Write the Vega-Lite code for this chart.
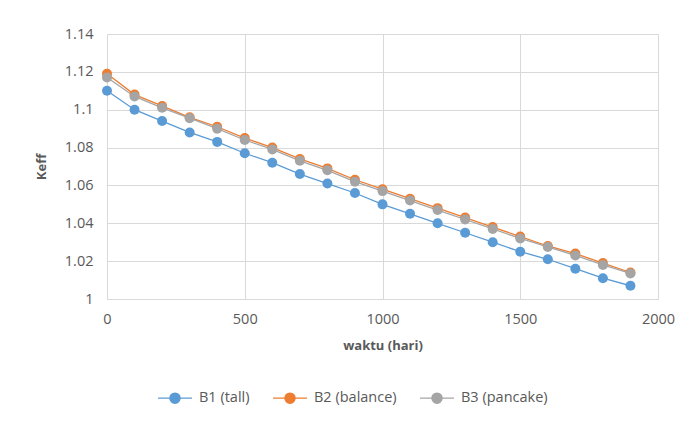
{
  "$schema": "https://vega.github.io/schema/vega-lite/v6.json",
  "width": 551,
  "height": 265,
  "autosize": {"type": "none"},
  "padding": {"left": 107, "top": 34, "right": 27, "bottom": 125},
  "background": "white",
  "config": {
    "font": "Open Sans",
    "view": {"stroke": null},
    "axis": {"labelColor": "#595959", "labelFontSize": 14.5, "titleColor": "#595959", "titleFontSize": 13, "titleFontWeight": "bold", "gridColor": "#d9d9d9", "gridWidth": 1, "ticks": false, "domain": false, "labelFont": "Open Sans", "labelFlush": false}
  },
  "data": {"values": [
    {"t":0,"k":1.110,"s":"B1 (tall)"},{"t":100,"k":1.100,"s":"B1 (tall)"},{"t":200,"k":1.094,"s":"B1 (tall)"},{"t":300,"k":1.088,"s":"B1 (tall)"},{"t":400,"k":1.083,"s":"B1 (tall)"},{"t":500,"k":1.077,"s":"B1 (tall)"},{"t":600,"k":1.072,"s":"B1 (tall)"},{"t":700,"k":1.066,"s":"B1 (tall)"},{"t":800,"k":1.061,"s":"B1 (tall)"},{"t":900,"k":1.056,"s":"B1 (tall)"},{"t":1000,"k":1.050,"s":"B1 (tall)"},{"t":1100,"k":1.045,"s":"B1 (tall)"},{"t":1200,"k":1.040,"s":"B1 (tall)"},{"t":1300,"k":1.035,"s":"B1 (tall)"},{"t":1400,"k":1.030,"s":"B1 (tall)"},{"t":1500,"k":1.025,"s":"B1 (tall)"},{"t":1600,"k":1.021,"s":"B1 (tall)"},{"t":1700,"k":1.016,"s":"B1 (tall)"},{"t":1800,"k":1.011,"s":"B1 (tall)"},{"t":1900,"k":1.007,"s":"B1 (tall)"},
    {"t":0,"k":1.119,"s":"B2 (balance)"},{"t":100,"k":1.108,"s":"B2 (balance)"},{"t":200,"k":1.102,"s":"B2 (balance)"},{"t":300,"k":1.096,"s":"B2 (balance)"},{"t":400,"k":1.091,"s":"B2 (balance)"},{"t":500,"k":1.085,"s":"B2 (balance)"},{"t":600,"k":1.080,"s":"B2 (balance)"},{"t":700,"k":1.074,"s":"B2 (balance)"},{"t":800,"k":1.069,"s":"B2 (balance)"},{"t":900,"k":1.063,"s":"B2 (balance)"},{"t":1000,"k":1.058,"s":"B2 (balance)"},{"t":1100,"k":1.053,"s":"B2 (balance)"},{"t":1200,"k":1.048,"s":"B2 (balance)"},{"t":1300,"k":1.043,"s":"B2 (balance)"},{"t":1400,"k":1.038,"s":"B2 (balance)"},{"t":1500,"k":1.033,"s":"B2 (balance)"},{"t":1600,"k":1.028,"s":"B2 (balance)"},{"t":1700,"k":1.024,"s":"B2 (balance)"},{"t":1800,"k":1.019,"s":"B2 (balance)"},{"t":1900,"k":1.014,"s":"B2 (balance)"},
    {"t":0,"k":1.117,"s":"B3 (pancake)"},{"t":100,"k":1.107,"s":"B3 (pancake)"},{"t":200,"k":1.101,"s":"B3 (pancake)"},{"t":300,"k":1.0955,"s":"B3 (pancake)"},{"t":400,"k":1.090,"s":"B3 (pancake)"},{"t":500,"k":1.084,"s":"B3 (pancake)"},{"t":600,"k":1.079,"s":"B3 (pancake)"},{"t":700,"k":1.073,"s":"B3 (pancake)"},{"t":800,"k":1.068,"s":"B3 (pancake)"},{"t":900,"k":1.062,"s":"B3 (pancake)"},{"t":1000,"k":1.057,"s":"B3 (pancake)"},{"t":1100,"k":1.052,"s":"B3 (pancake)"},{"t":1200,"k":1.047,"s":"B3 (pancake)"},{"t":1300,"k":1.042,"s":"B3 (pancake)"},{"t":1400,"k":1.037,"s":"B3 (pancake)"},{"t":1500,"k":1.032,"s":"B3 (pancake)"},{"t":1600,"k":1.0275,"s":"B3 (pancake)"},{"t":1700,"k":1.023,"s":"B3 (pancake)"},{"t":1800,"k":1.018,"s":"B3 (pancake)"},{"t":1900,"k":1.0135,"s":"B3 (pancake)"}
  ]},
  "encoding": {
    "x": {"field": "t", "type": "quantitative", "scale": {"domain": [0, 2000], "nice": false}, "axis": {"values": [0, 500, 1000, 1500, 2000], "title": "waktu (hari)", "labelPadding": 13, "titlePadding": 14, "format": "d"}},
    "y": {"field": "k", "type": "quantitative", "scale": {"domain": [1, 1.14], "nice": false, "zero": false}, "axis": {"values": [1, 1.02, 1.04, 1.06, 1.08, 1.1, 1.12, 1.14], "title": "Keff", "labelPadding": 14, "titlePadding": 16, "labelExpr": "datum.value == 1 ? '1' : format(datum.value, '.2~f')"}},
    "color": {"field": "s", "type": "nominal", "scale": {"domain": ["B1 (tall)", "B2 (balance)", "B3 (pancake)"], "range": ["#5B9BD5", "#ED7D31", "#A5A5A5"]},
      "legend": {"title": null, "orient": "none", "direction": "horizontal", "legendX": 50, "legendY": 346, "labelFontSize": 14.5, "labelColor": "#595959", "labelFont": "Open Sans", "symbolType": "M-1,0H-0.3M0.3,0H1M0.3,0A0.3,0.3 0 1,1 -0.3,0A0.3,0.3 0 1,1 0.3,0", "symbolSize": 1150, "symbolStrokeWidth": 1.3, "columnPadding": 20, "labelOffset": 6}}
  },
  "layer": [
    {"mark": {"type": "line", "strokeWidth": 1.3}, "encoding": {"order": {"field": "t", "type": "quantitative"}}},
    {"mark": {"type": "point", "filled": true, "opacity": 1, "size": 100}}
  ]
}
